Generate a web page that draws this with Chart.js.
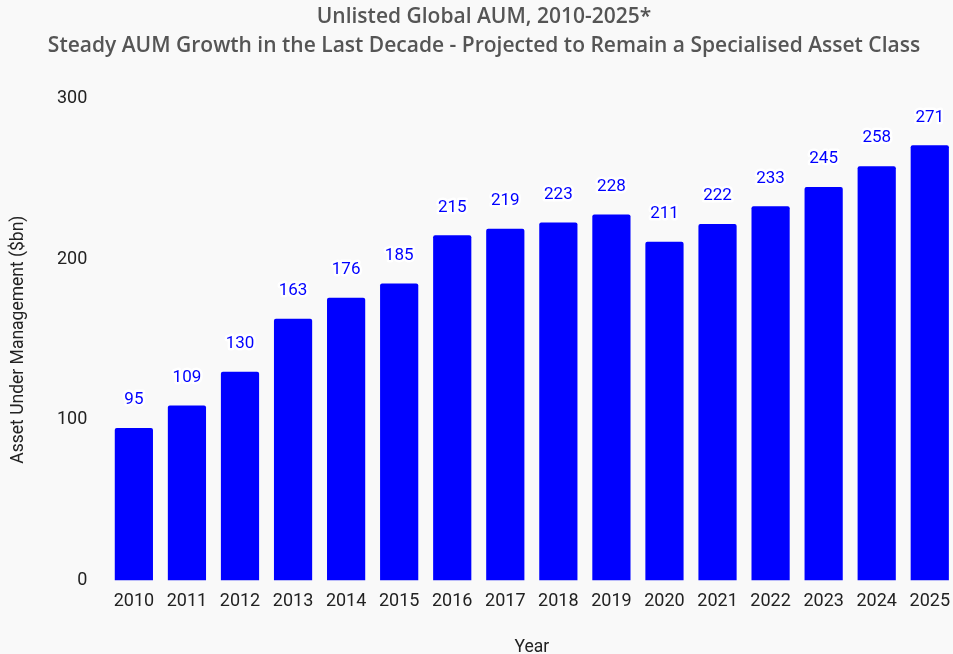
<!DOCTYPE html>
<html>
<head>
<meta charset="utf-8">
<script src="https://cdn.jsdelivr.net/npm/chart.js@4"></script>
<style>
  html, body { margin: 0; padding: 0; background: #f9f9f9; overflow: hidden; }
  #wrap { width: 960px; height: 658px; }
</style>
</head>
<body>
<div id="wrap"><canvas id="aumChart"></canvas></div>
<script>
// Unlisted global AUM, $bn
const years = ['2010', '2011', '2012', '2013', '2014', '2015', '2016', '2017',
               '2018', '2019', '2020', '2021', '2022', '2023', '2024', '2025'];
const aum = [95, 109, 130, 163, 176, 185, 215, 219, 223, 228, 211, 222, 233, 245, 258, 271];
const yTicks = [0, 100, 200, 300];

const titleLines = [
    'Unlisted Global AUM, 2010-2025*',
    'Steady AUM Growth in the Last Decade - Projected to Remain a Specialised Asset Class',
];

// value labels above each bar, white halo like the original
const barLabels = {
    id: 'barLabels',
    afterDatasetsDraw(chart) {
        const { ctx } = chart;
        const meta = chart.getDatasetMeta(0);
        ctx.save();
        ctx.font = '17px Roboto';
        ctx.textAlign = 'center';
        ctx.textBaseline = 'middle';
        ctx.lineJoin = 'round';
        meta.data.forEach((bar, i) => {
            const txt = String(aum[i]);
            const y = bar.y - 28;
            ctx.strokeStyle = '#ffffff';
            ctx.lineWidth = 5;
            ctx.strokeText(txt, bar.x, y);
            ctx.fillStyle = '#0000ff';
            ctx.fillText(txt, bar.x, y);
        });
        ctx.restore();
    }
};

const bgPlugin = {
    id: 'bg',
    beforeDraw(chart) {
        const { ctx } = chart;
        ctx.save();
        ctx.fillStyle = '#f9f9f9';
        ctx.fillRect(0, 0, chart.width, chart.height);
        ctx.restore();
    }
};

new Chart(document.getElementById('aumChart').getContext('2d'), {
    type: 'bar',
    data: {
        labels: years,
        datasets: [{
            label: 'AUM ($bn)',
            data: aum,
            backgroundColor: '#0000ff',
            borderRadius: 2,
            borderSkipped: 'bottom',
        }],
    },
    options: {
        responsive: true,
        maintainAspectRatio: false,
        animation: false,
        layout: { padding: { left: 8, right: 0, top: 0, bottom: 0 } },
        plugins: {
            legend: { display: false },
            tooltip: { enabled: false },
            title: {
                display: true,
                text: titleLines,
                color: '#555555',
                font: { family: 'Open Sans', size: 21, weight: 600, lineHeight: 1.4 },
                padding: { top: 2, bottom: 38 },
            },
        },
        scales: {
            x: {
                grid: { display: false, drawTicks: false },
                border: { display: false },
                ticks: { color: '#222', font: { family: 'Roboto', size: 18 }, padding: 10, maxRotation: 0 },
                title: { display: true, text: 'Year', color: '#222', font: { family: 'Roboto', size: 17.5 }, padding: { top: 15, bottom: 0 } },
            },
            y: {
                min: 0,
                max: 300,
                afterBuildTicks: (axis) => { axis.ticks = yTicks.map(v => ({ value: v })); },
                grid: { display: false, drawTicks: false },
                border: { display: false },
                ticks: { color: '#222', font: { family: 'Roboto', size: 18 }, padding: 20 },
                title: { display: true, text: 'Asset Under Management ($bn)', color: '#222', font: { family: 'Roboto', size: 17.5 }, padding: { top: 0, bottom: 8 } },
            },
        },
    },
    plugins: [bgPlugin, barLabels],
});
</script>
</body>
</html>
